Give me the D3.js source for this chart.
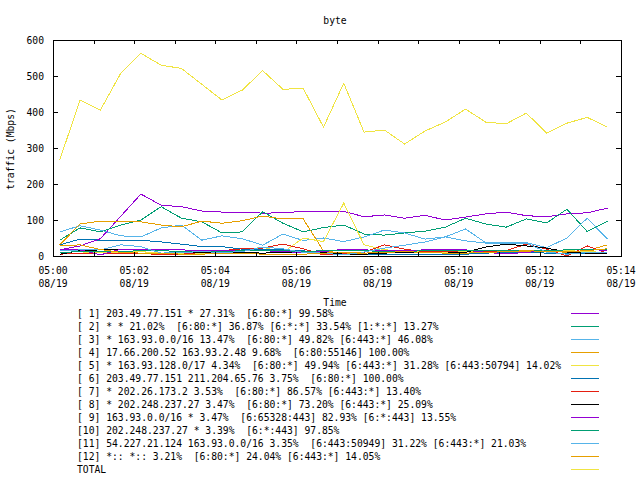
<!DOCTYPE html>
<html><head><meta charset="utf-8">
<script src="https://cdn.jsdelivr.net/npm/d3@7"></script>
<style>
html,body{margin:0;padding:0;background:#fff;}
text{font-family:"DejaVu Sans Mono",monospace;font-size:9.7px;fill:#000;white-space:pre;}
</style></head><body>
<svg id="c" width="640" height="480"></svg>
<script>
const times = ["05:00:10","05:00:40","05:01:10","05:01:40","05:02:10","05:02:40","05:03:10","05:03:40","05:04:10","05:04:40","05:05:10","05:05:40","05:06:10","05:06:40","05:07:10","05:07:40","05:08:10","05:08:40","05:09:10","05:09:40","05:10:10","05:10:40","05:11:10","05:11:40","05:12:10","05:12:40","05:13:10","05:13:40"];
const s1  = [17,28,48,110,172,141,137,125,122,122,119,120,124,124,124,109,114,105,113,100,108,117,122,112,109,117,120,133];
const s2  = [44,78,67,86,100,137,105,95,64,67,123,91,67,79,86,61,58,64,69,80,105,89,80,103,92,130,68,97];
const s3  = [67,84,72,56,53,78,86,44,56,48,30,61,43,50,40,53,72,64,47,53,75,37,37,37,23,50,105,47];
const s4  = [31,89,97,95,95,86,81,97,91,98,111,103,103,14,8,8,10,10,12,10,12,10,12,12,15,10,15,31];
const s5  = [5,8,10,10,12,8,8,8,10,15,25,10,50,40,147,31,17,15,12,10,12,15,12,10,12,15,12,10];
const s6  = [31,47,44,43,44,39,33,26,26,19,19,17,14,12,5,3,3,3,5,5,5,8,10,10,8,8,8,10];
const s7  = [5,8,5,8,8,3,5,10,15,20,22,33,20,3,8,10,31,19,12,12,15,12,15,33,19,0,28,8];
const s8  = [5,15,17,17,17,15,12,10,8,10,8,10,12,10,5,5,8,10,10,8,10,25,33,28,22,11,8,8];
const s9  = [17,17,3,19,19,17,17,15,15,15,15,12,10,12,19,17,15,15,17,17,17,10,6,10,15,17,19,15];
const s10 = [10,12,12,12,15,15,12,12,12,15,15,15,12,15,15,15,12,12,15,15,15,15,15,15,15,17,17,17];
const s11 = [14,17,17,31,26,8,10,12,10,12,25,20,10,8,3,11,22,30,39,53,42,36,36,36,11,5,10,10];
const s12 = [28,31,18,10,8,8,5,5,8,8,5,5,5,8,10,8,10,12,10,8,8,10,12,15,12,12,15,20];
const total = [267,433,405,507,563,530,521,477,433,461,515,463,466,358,480,344,350,311,347,372,408,372,367,397,341,369,385,358];
const labels = [
"[ 1] 203.49.77.151 * 27.31%  [6:80:*] 99.58%",
"[ 2] * * 21.02%  [6:80:*] 36.87% [6:*:*] 33.54% [1:*:*] 13.27%",
"[ 3] * 163.93.0.0/16 13.47%  [6:80:*] 49.82% [6:443:*] 46.08%",
"[ 4] 17.66.200.52 163.93.2.48 9.68%  [6:80:55146] 100.00%",
"[ 5] * 163.93.128.0/17 4.34%  [6:80:*] 49.94% [6:443:*] 31.28% [6:443:50794] 14.02%",
"[ 6] 203.49.77.151 211.204.65.76 3.75%  [6:80:*] 100.00%",
"[ 7] * 202.26.173.2 3.53%  [6:80:*] 86.57% [6:443:*] 13.40%",
"[ 8] * 202.248.237.27 3.47%  [6:80:*] 73.20% [6:443:*] 25.09%",
"[ 9] 163.93.0.0/16 * 3.47%  [6:65328:443] 82.93% [6:*:443] 13.55%",
"[10] 202.248.237.27 * 3.39%  [6:*:443] 97.85%",
"[11] 54.227.21.124 163.93.0.0/16 3.35%  [6:443:50949] 31.22% [6:443:*] 21.03%",
"[12] *:: *:: 3.21%  [6:80:*] 24.04% [6:443:*] 14.05%",
"TOTAL"];
const colors = ["#9400d3","#009e73","#56b4e9","#e69f00","#f0e442","#0072b2","#e51e10","#000000"];
const yTicks = [0,100,200,300,400,500,600];
const xStart = "05:00:00", xEnd = "05:14:00";

const series = [s1,s2,s3,s4,s5,s6,s7,s8,s9,s10,s11,s12,total];
const parse = t => { const [h,m,s] = t.split(":").map(Number); return new Date(2020,7,19,h,m,s); };
const dates = times.map(parse);

const svg = d3.select("#c");
const L=53, R=621, T=40, B=256;
const x = d3.scaleTime().domain([parse(xStart), parse(xEnd)]).range([L,R]);
const y = d3.scaleLinear().domain([0,600]).range([B,T]);

svg.append("text").attr("x",335).attr("y",24).attr("text-anchor","middle").text("byte");

const g = svg.append("g");
const line = d3.line().x((d,i)=>x(dates[i])).y(d=>y(d));
series.forEach((s,i)=>{
  g.append("path").attr("d",line(s)).attr("fill","none")
   .attr("stroke",colors[i%8]).attr("stroke-width",1).attr("shape-rendering","crispEdges");
});

// axes
const minor = d3.timeMinute.every(1), major = d3.timeMinute.every(2);
const axB = svg.append("g").attr("transform",`translate(0,${B})`)
  .call(d3.axisBottom(x).ticks(minor).tickSize(-4).tickFormat(""));
const axT = svg.append("g").attr("transform",`translate(0,${T})`)
  .call(d3.axisTop(x).ticks(minor).tickSize(-4).tickFormat(""));
const axL = svg.append("g").attr("transform",`translate(${L},0)`)
  .call(d3.axisLeft(y).tickValues(yTicks).tickSize(-5).tickPadding(9).tickFormat(d3.format("d")));
const axR = svg.append("g").attr("transform",`translate(${R},0)`)
  .call(d3.axisRight(y).tickValues(yTicks).tickSize(-5).tickFormat(""));
[axB,axT,axL,axR].forEach(a=>{
  a.selectAll(".domain").remove();
  a.selectAll("line").attr("stroke","#000").attr("shape-rendering","crispEdges");
  a.selectAll("text").style("font-family","DejaVu Sans Mono").style("font-size","9.7px").attr("fill","#000");
});
svg.append("rect").attr("x",L).attr("y",T).attr("width",R-L).attr("height",B-T)
  .attr("fill","none").attr("stroke","#000").attr("shape-rendering","crispEdges");

// x labels (two lines)
const fmtT = d3.timeFormat("%H:%M"), fmtD = d3.timeFormat("%m/%d");
const lab = svg.append("g").selectAll("g").data(x.ticks(major)).join("g");
lab.append("text").attr("x",d=>x(d)).attr("y",274).attr("text-anchor","middle").text(fmtT);
lab.append("text").attr("x",d=>x(d)).attr("y",287).attr("text-anchor","middle").text(fmtD);
svg.append("text").attr("x",335).attr("y",306).attr("text-anchor","middle").text("Time");
svg.append("text").attr("transform","translate(14,149) rotate(-90)").attr("text-anchor","middle").text("traffic (Mbps)");

// legend
const lg = svg.append("g").selectAll("g").data(labels).join("g")
  .attr("transform",(d,i)=>`translate(0,${313+i*13})`);
lg.append("text").attr("x",77).attr("y",4).text(d=>d);
lg.append("line").attr("x1",571).attr("x2",599).attr("y1",0.5).attr("y2",0.5)
  .attr("stroke",(d,i)=>colors[i%8]).attr("stroke-width",1);
</script></body></html>
